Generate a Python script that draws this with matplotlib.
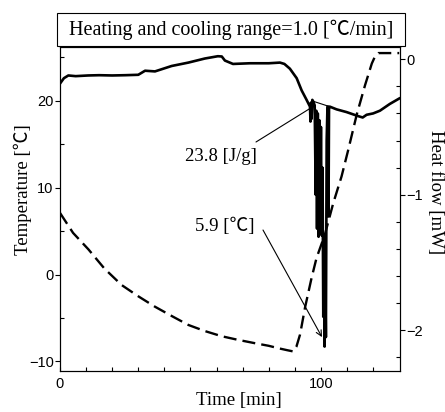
import matplotlib.pyplot as plt
from matplotlib.patches import Rectangle

serif = ["Liberation Serif", "Noto Sans CJK JP"]
sans = "Liberation Sans"

# temperature (dashed, left axis)
time_temp = [0, 5, 10.9, 17, 23.6, 30, 36.4, 43, 49.2, 55.5, 62, 68, 74.7, 80, 84, 87, 89.4,
             90.6, 92, 93.9, 96.4, 98.3, 101.5, 104.7, 107.9, 110.5, 113.7, 116.9, 119.5,
             120.7, 122, 128.3, 130]
temp = [7.1, 4.8, 2.9, 0.7, -1.2, -2.5, -3.7, -4.8, -5.8, -6.5, -7.1, -7.5, -7.9, -8.2, -8.5,
        -8.7, -8.85, -8.3, -6.9, -3.8, -0.4, 1.9, 4.6, 8.2, 11.3, 14.4, 18.4, 21.8, 24.3,
        25.1, 25.5, 25.5, 25.5]

# heat flow (solid, right axis)
time_hf = [0, 1.5, 3.2, 6, 10.8, 15, 20, 25, 30, 32.6, 36.4, 38, 42.8, 49.2, 55.5, 60.5, 62,
           63.2, 66.3, 72.8, 80, 84.3, 86, 88.1, 90.7, 92.6, 94.5, 95.8, 96.0, 96.2, 96.4,
           96.7, 97.0, 97.6, 98.0, 98.2, 98.5, 98.8, 99.1, 99.4, 99.7, 100.0, 100.3, 100.6,
           100.9, 101.1, 101.4, 101.6, 101.9, 102.2, 102.5, 102.8, 102.9, 103.1, 103.4, 106,
           109.8, 114.3, 116, 117.5, 120, 122.6, 126.4, 130]
heat_flow = [-0.18, -0.14, -0.12, -0.125, -0.12, -0.118, -0.12, -0.118, -0.115, -0.085, -0.09,
             -0.08, -0.05, -0.025, 0.005, 0.022, 0.02, -0.01, -0.035, -0.03, -0.03, -0.025,
             -0.035, -0.07, -0.14, -0.23, -0.30, -0.35, -0.46, -0.32, -0.44, -0.30, -0.31,
             -0.34, -1.0, -0.38, -1.25, -0.4, -1.31, -0.45, -1.25, -0.5, -1.3, -0.8, -1.9,
             -1.3, -2.12, -1.5, -2.05, -0.6, -0.35, -0.35, -1.16, -0.36, -0.35, -0.37, -0.39,
             -0.42, -0.43, -0.41, -0.40, -0.38, -0.33, -0.29]

# peak baseline for the enthalpy
base_t = [97.0, 103.4]
base_hf = [-0.31, -0.35]

fig = plt.figure(figsize=(4.45, 4.12), dpi=100)
ax = fig.add_axes([60 / 445, 1 - 371 / 412, 340 / 445, 324 / 412])
ax2 = ax.twinx()

ax.plot(time_temp, temp, color="black", lw=1.7, linestyle=(0, (5.5, 2.6)))
ax2.plot(time_hf, heat_flow, color="black", lw=1.9)
ax2.plot(base_t, base_hf, color="black", lw=0.8)

ax.set_xlim(0, 130.3)
ax.set_ylim(-11.1, 26.2)
ax2.set_ylim(-2.30, 0.09)

ax.set_xticks([0, 100])
ax.set_xticks(range(10, 130, 10), minor=True)
ax.set_yticks([-10, 0, 10, 20])
ax.set_yticks(range(-10, 26, 5), minor=True)
ax2.set_yticks([-2, -1, 0])
ax2.set_yticks([-2.2 + 0.2 * i for i in range(12)], minor=True)

ax.tick_params(axis="x", which="both", direction="in", length=3, width=0.8, pad=4, labelsize=10.5)
ax.tick_params(axis="y", which="major", direction="out", length=3.5, width=0.8, pad=1, labelsize=10.5)
ax.tick_params(axis="y", which="minor", direction="in", length=3, width=0.8)
ax2.tick_params(axis="y", which="major", direction="out", length=3.5, width=0.8, pad=1, labelsize=10.5)
ax2.tick_params(axis="y", which="minor", direction="in", length=3, width=0.8)
for a in (ax, ax2):
    for lab in a.get_xticklabels() + a.get_yticklabels():
        lab.set_fontfamily(sans)
    for s in a.spines.values():
        s.set_linewidth(0.8)

# title box
fig.patches.append(Rectangle((57 / 445, 1 - 46 / 412), 348 / 445, 33 / 412,
                             transform=fig.transFigure, fill=False, lw=0.8, ec="black"))
fig.text(231 / 445, 1 - 30 / 412, "Heating and cooling range=1.0 [℃/min]",
         ha="center", va="center", fontsize=14.5, family=serif)

fig.text(239 / 445, 1 - 401 / 412, "Time [min]", ha="center", va="center", fontsize=13.5, family=serif)
fig.text(23 / 445, 1 - 190 / 412, "Temperature [℃]", ha="center", va="center", rotation=90,
         fontsize=13.5, family=serif)
fig.text(436 / 445, 1 - 192 / 412, "Heat flow [mW]", ha="center", va="center", rotation=270,
         fontsize=13.5, family=serif)

# annotations
fig.text(221 / 445, 1 - 157 / 412, "23.8 [J/g]", ha="center", va="center", fontsize=13.5, family=serif)
ax2.annotate("", xy=(96.6, -0.354), xytext=(256, 412 - 142), textcoords="figure pixels",
             arrowprops=dict(arrowstyle="-", lw=0.8, color="black", shrinkA=0, shrinkB=0))
fig.text(225 / 445, 1 - 226 / 412, "5.9 [℃]", ha="center", va="center", fontsize=13.5, family=serif)
ax2.annotate("", xy=(100.4, -2.05), xytext=(263, 412 - 230), textcoords="figure pixels",
             arrowprops=dict(arrowstyle="->", lw=0.8, color="black", shrinkA=0, shrinkB=0))

fig.savefig("out.png", dpi=100)
